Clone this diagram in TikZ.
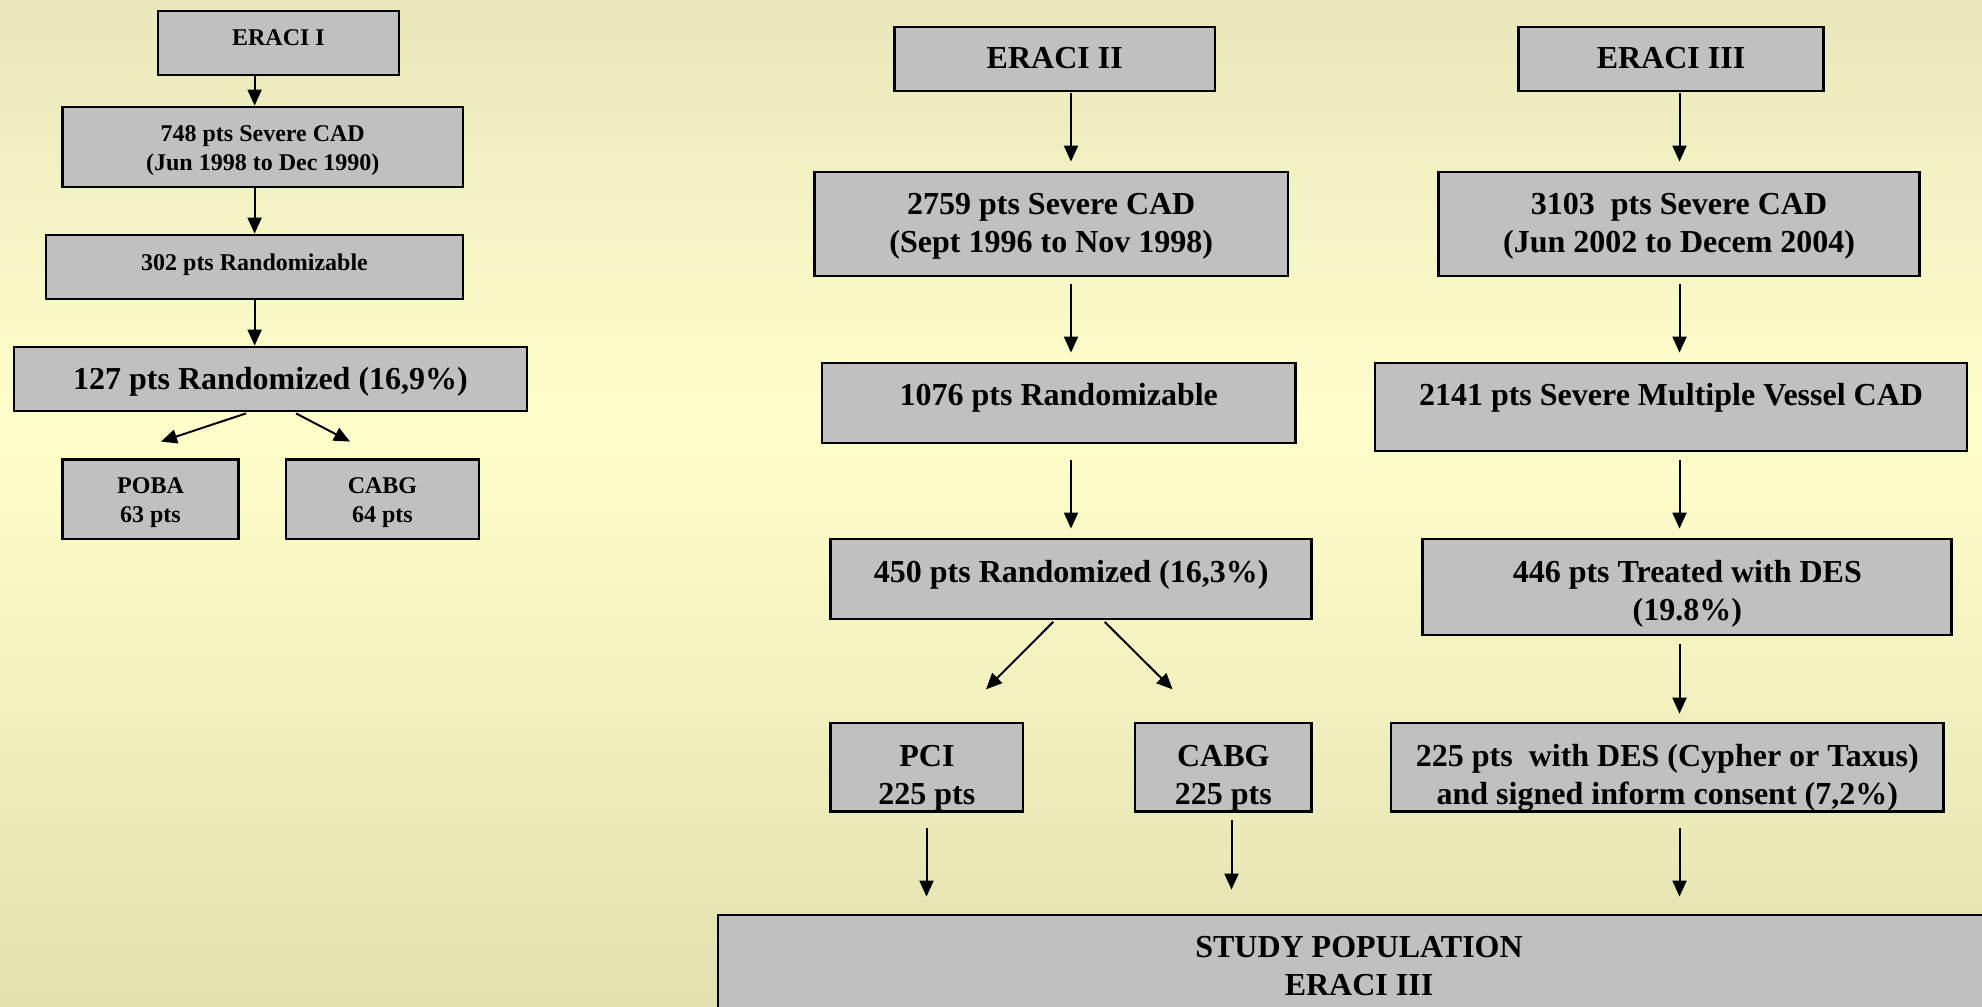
\documentclass[tikz,border=0pt]{standalone}
\usepackage{fontspec}
\setmainfont{Liberation Serif}
\usetikzlibrary{arrows.meta,calc}
\definecolor{boxgray}{HTML}{C0C0C0}
\definecolor{bgtop}{HTML}{E9E7BB}
\definecolor{bgmid}{HTML}{FFFFCC}
\definecolor{bgbot}{HTML}{E3E0B0}
\tikzset{
  box/.style={draw=black, line width=2.8pt, fill=boxgray, inner sep=0pt, rectangle},
  bigtxt/.style={font=\bfseries\fontsize{32}{38}\selectfont, align=center, inner sep=0pt, text height=21pt, text depth=0pt},
  smalltxt/.style={font=\bfseries\fontsize{24}{28.5}\selectfont, align=center, inner sep=0pt, text height=16pt, text depth=0pt},
  arr/.style={-{Triangle[length=16pt,width=14pt]}, line width=2pt}
}
\begin{document}
\begin{tikzpicture}[x=1pt,y=-1pt]
\useasboundingbox (0,0) rectangle (1982,1007);
\clip (0,0) rectangle (1982,1007);
\shade[top color=bgtop, bottom color=bgmid] (0,0) rectangle (1982,420);
\shade[top color=bgmid, bottom color=bgbot] (0,419) rectangle (1982,1007);

% ---------- ERACI I ----------
\node[box, minimum width=241pt, minimum height=64pt] (e1) at (278.5,43) {};
\node[smalltxt] (te1) at (278.5,37.5) {ERACI I};
\node[box, minimum width=400.5pt, minimum height=80pt] (c748) at (262.75,147) {};
\node[smalltxt] (tc748) at (262.75,162.25) {748 pts Severe CAD\\(Jun 1998 to Dec 1990)};
\node[box, minimum width=417pt, minimum height=64pt] (r302) at (254.5,267) {};
\node[smalltxt] (tr302) at (254.5,262) {302 pts Randomizable};
\node[box, minimum width=513pt, minimum height=64pt] (r127) at (270.5,379) {};
\node[bigtxt] (tr127) at (270.5,379) {127 pts Randomized (16,9\%)};
\node[box, minimum width=176pt, minimum height=79.4pt] (poba) at (150.5,499.3) {};
\node[smalltxt] (tpoba) at (150.5,514.25) {POBA\\63 pts};
\node[box, minimum width=193pt, minimum height=79.4pt] (cabga) at (382.5,499.3) {};
\node[smalltxt] (tcabga) at (382.5,514.25) {CABG\\64 pts};

\coordinate (xa) at (254.6,0);
\draw[arr] (e1.south -| xa) -- (c748.north -| xa);
\draw[arr] (c748.south -| xa) -- (r302.north -| xa);
\draw[arr] (r302.south -| xa) -- (r127.north -| xa);
\draw[arr] ($(r127.south)+(-24.5,1)$) -- ($(poba.north)+(10.5,-16.6)$);
\draw[arr] ($(r127.south)+(25.5,1)$) -- ($(cabga.north)+(-32.5,-16.6)$);

% ---------- ERACI II ----------
\node[box, minimum width=320.5pt, minimum height=64pt] (e2) at (1054.75,59) {};
\node[bigtxt] (te2) at (1054.75,58) {ERACI II};
\node[box, minimum width=473.5pt, minimum height=104pt] (c2759) at (1051.25,224) {};
\node[bigtxt] (tc2759) at (1051.25,242) {2759 pts Severe CAD\\(Sept 1996 to Nov 1998)};
\node[box, minimum width=473.6pt, minimum height=80pt] (r1076) at (1058.8,403) {};
\node[bigtxt] (tr1076) at (1058.8,395) {1076 pts Randomizable};
\node[box, minimum width=480.8pt, minimum height=80pt] (r450) at (1071.2,579) {};
\node[bigtxt] (tr450) at (1071.2,571.7) {450 pts Randomized (16,3\%)};
\node[box, minimum width=192.2pt, minimum height=88.7pt] (pci) at (926.9,767.4) {};
\node[bigtxt] (tpci) at (926.9,793.5) {PCI\\225 pts};
\node[box, minimum width=176.6pt, minimum height=88.7pt] (cabgb) at (1223.3,767.4) {};
\node[bigtxt] (tcabgb) at (1223.3,793.5) {CABG\\225 pts};

\coordinate (xb) at (1071,0);
\draw[arr, shorten <=1pt, shorten >=9pt] (e2.south -| xb) -- (c2759.north -| xb);
\draw[arr, shorten <=7pt, shorten >=9pt] (c2759.south -| xb) -- (r1076.north -| xb);
\draw[arr, shorten <=16pt, shorten >=9pt] (r1076.south -| xb) -- (r450.north -| xb);
\draw[arr] ($(r450.south)+(-18,1.5)$) -- ($(pci.north)+(59.1,-32.3)$);
\draw[arr] ($(r450.south)+(33.5,1.5)$) -- ($(cabgb.north)+(-50.7,-32.3)$);

% ---------- ERACI III ----------
\node[box, minimum width=305pt, minimum height=64pt] (e3) at (1671,59) {};
\node[bigtxt] (te3) at (1671,58) {ERACI III};
\node[box, minimum width=480.8pt, minimum height=104pt] (c3103) at (1679.1,224) {};
\node[bigtxt] (tc3103) at (1679.1,242) {3103~ pts Severe CAD\\(Jun 2002 to Decem 2004)};
\node[box, minimum width=592pt, minimum height=88pt] (r2141) at (1671,407) {};
\node[bigtxt] (tr2141) at (1671,395) {2141 pts Severe Multiple Vessel CAD};
\node[box, minimum width=529pt, minimum height=96pt] (t446) at (1687.3,587) {};
\node[bigtxt] (tt446) at (1687.3,610) {446 pts Treated with DES\\(19.8\%)};
\node[box, minimum width=552.6pt, minimum height=88.7pt] (d225) at (1667.3,767.4) {};
\node[bigtxt] (td225) at (1667.3,793.5) {225 pts~ with DES (Cypher or Taxus)\\and signed inform consent (7,2\%)};

\coordinate (xc) at (1679.5,0);
\draw[arr, shorten <=1pt, shorten >=9pt] (e3.south -| xc) -- (c3103.north -| xc);
\draw[arr, shorten <=7pt, shorten >=9pt] (c3103.south -| xc) -- (r2141.north -| xc);
\draw[arr, shorten <=8pt, shorten >=9pt] (r2141.south -| xc) -- (t446.north -| xc);
\draw[arr, shorten <=8pt, shorten >=8pt] (t446.south -| xc) -- (d225.north -| xc);

% ---------- Study population ----------
\node[box, minimum width=1282pt, minimum height=185pt] (study) at (1359,1007.5) {};
\node[bigtxt] (tstudy) at (1359,985) {STUDY POPULATION\\ERACI III};

\coordinate (xp) at (926.5,0);
\coordinate (xq) at (1231.5,0);
\draw[arr, shorten <=15pt, shorten >=17pt] (pci.south -| xp) -- (study.north -| xp);
\draw[arr, shorten <=7pt, shorten >=24pt] (cabgb.south -| xq) -- (study.north -| xq);
\draw[arr, shorten <=15pt, shorten >=17pt] (d225.south -| xc) -- (study.north -| xc);
\end{tikzpicture}
\end{document}
